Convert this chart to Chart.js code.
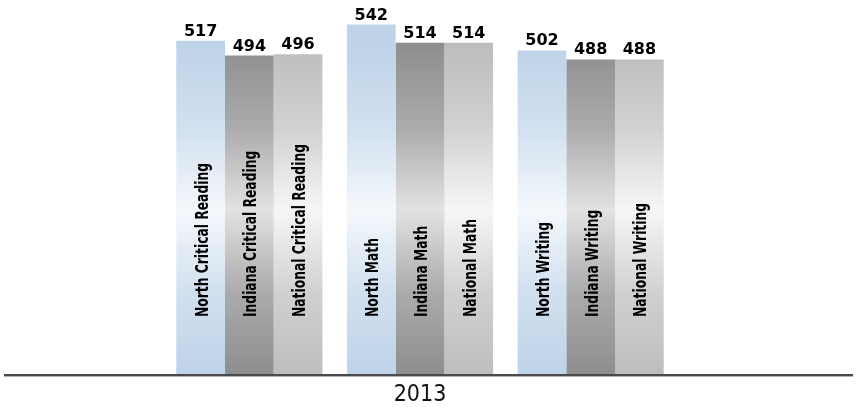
<!DOCTYPE html>
<html><head><meta charset="utf-8">
<script src="https://cdn.jsdelivr.net/npm/chart.js@4"></script>
<style>html,body{margin:0;padding:0;background:#fff;}#wrap{width:867px;height:407px;position:relative;}</style>
</head><body><div id="wrap"><canvas id="c"></canvas></div>
<script>
const years = ['2013'];
const subjects = ['Critical Reading', 'Math', 'Writing'];
const seriesNames = ['North', 'Indiana', 'National'];
const northScores = [517, 542, 502];
const indianaScores = [494, 514, 488];
const nationalScores = [496, 514, 488];

const palettes = [
  {edge: '#bed3e8', mid: '#f4f8fc'},
  {edge: '#8e8e90', mid: '#e2e2e2'},
  {edge: '#bdbdbd', mid: '#f6f6f6'}
];
const condensedFont = '"DejaVu Sans Condensed", "DejaVu Sans", sans-serif';
function mix(a, b, t) {
  const pa = [1,3,5].map(i => parseInt(a.substr(i,2),16));
  const pb = [1,3,5].map(i => parseInt(b.substr(i,2),16));
  return 'rgb(' + pa.map((v,k) => Math.round(v + (pb[k]-v)*t)).join(',') + ')';
}
function gradFor(idx) {
  return function(context) {
    const chart = context.chart;
    const area = chart.chartArea;
    const p = palettes[idx];
    if (!area) return p.edge;
    const g = chart.ctx.createLinearGradient(0, area.top + 45, 0, area.bottom);
    g.addColorStop(0, p.edge);
    g.addColorStop(0.25, mix(p.edge, p.mid, 0.35));
    g.addColorStop(0.5, p.mid);
    g.addColorStop(0.75, mix(p.edge, p.mid, 0.35));
    g.addColorStop(1, p.edge);
    return g;
  };
}

const labelPlugin = {
  id: 'barLabels',
  afterDatasetsDraw(chart) {
    const ctx = chart.ctx;
    chart.data.datasets.forEach((ds, di) => {
      const meta = chart.getDatasetMeta(di);
      meta.data.forEach((bar, i) => {
        ctx.save();
        ctx.fillStyle = '#000';
        ctx.font = 'bold 16px "DejaVu Sans", sans-serif';
        ctx.textAlign = 'center';
        ctx.textBaseline = 'alphabetic';
        ctx.fillText(String(ds.data[i]), bar.x, bar.y - 5);
        ctx.translate(bar.x, bar.base - 58);
        ctx.rotate(-Math.PI / 2);
        ctx.scale(0.76, 1);
        ctx.font = 'bold 18px ' + condensedFont;
        ctx.textAlign = 'left';
        ctx.textBaseline = 'alphabetic';
        ctx.fillText(seriesNames[di] + ' ' + subjects[i], 0, 7);
        ctx.restore();
      });
    });
  },
  afterDraw(chart) {
    const ctx = chart.ctx;
    const y = chart.scales.y.getPixelForValue(0);
    ctx.save();
    ctx.strokeStyle = '#4a4a4a';
    ctx.lineWidth = 2;
    ctx.beginPath();
    ctx.moveTo(4, y);
    ctx.lineTo(853, y);
    ctx.stroke();
    ctx.strokeStyle = '#b0b0b0';
    ctx.lineWidth = 1;
    ctx.beginPath();
    ctx.moveTo(4, y + 1.5);
    ctx.lineTo(853, y + 1.5);
    ctx.stroke();
    ctx.restore();
  }
};

const seriesData = [northScores, indianaScores, nationalScores];
new Chart(document.getElementById('c'), {
  type: 'bar',
  data: {
    labels: subjects,
    datasets: seriesNames.map((name, i) => ({
      label: name,
      data: seriesData[i],
      backgroundColor: gradFor(i),
      borderWidth: 0,
      categoryPercentage: 0.856,
      barPercentage: 1.0
    }))
  },
  options: {
    responsive: true,
    maintainAspectRatio: false,
    animation: false,
    layout: {padding: {left: 164, right: 191, top: 0, bottom: -7.6}},
    plugins: {legend: {display: false}, tooltip: {enabled: false}},
    scales: {
      x: {display: false},
      y: {display: false, min: 0, max: 580},
      x2: {
        type: 'category',
        labels: years,
        position: 'bottom',
        offset: true,
        grid: {display: false, drawTicks: false},
        border: {display: false},
        ticks: {color: '#111', padding: 6, font: {family: condensedFont, size: 23}}
      }
    }
  },
  plugins: [labelPlugin]
});
</script>
</body></html>
